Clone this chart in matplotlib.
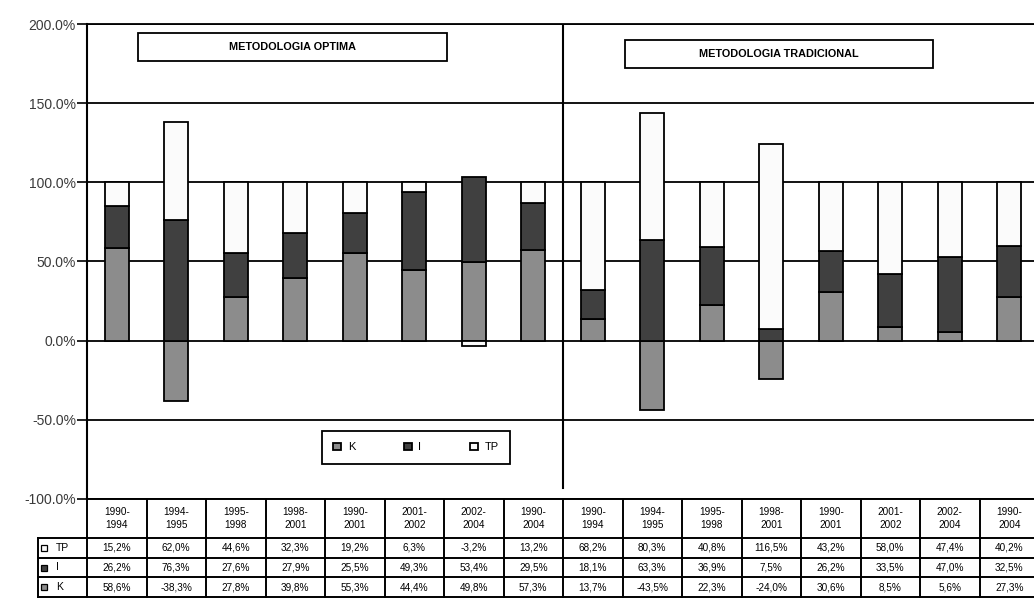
import matplotlib
matplotlib.use("Agg")
import matplotlib.pyplot as plt
from matplotlib.patches import Rectangle
import numpy as np

plt.rcParams['font.family'] = ['Liberation Sans', 'DejaVu Sans']

# ---------------- data ----------------
periods = ["1990-1994", "1994-1995", "1995-1998", "1998-2001",
           "1990-2001", "2001-2002", "2002-2004", "1990-2004"]
categories = periods + periods          # optima (8) + tradicional (8)
series_names = ["K", "I", "TP"]
K_vals = [58.6, -38.3, 27.8, 39.8, 55.3, 44.4, 49.8, 57.3,
          13.7, -43.5, 22.3, -24.0, 30.6, 8.5, 5.6, 27.3]
I_vals = [26.2, 76.3, 27.6, 27.9, 25.5, 49.3, 53.4, 29.5,
          18.1, 63.3, 36.9, 7.5, 26.2, 33.5, 47.0, 32.5]
TP_vals = [15.2, 62.0, 44.6, 32.3, 19.2, 6.3, -3.2, 13.2,
           68.2, 80.3, 40.8, 116.5, 43.2, 58.0, 47.4, 40.2]
yticks = [-100, -50, 0, 50, 100, 150, 200]
group_titles = ["METODOLOGIA OPTIMA", "METODOLOGIA TRADICIONAL"]

colors = {"K": "#8c8c8c", "I": "#404040", "TP": "#fbfbfb"}
values = {"K": K_vals, "I": I_vals, "TP": TP_vals}

W, H = 1034, 598
fig = plt.figure(figsize=(W / 100, H / 100), dpi=100)
fig.patch.set_facecolor("white")


def px_axes(x0, y0, x1, y1):
    return fig.add_axes([x0 / W, 1 - y1 / H, (x1 - x0) / W, (y1 - y0) / H])


ax = px_axes(87, 24, 1039, 499)
n = len(categories)
x = np.arange(n)
pos = np.zeros(n)
neg = np.zeros(n)
handles = []
for name in series_names:
    v = np.array(values[name], dtype=float)
    bottom = np.where(v >= 0, pos, neg)
    b = ax.bar(x, v, 0.4, bottom=bottom, color=colors[name],
               edgecolor="black", linewidth=1.3, label=name, zorder=3)
    handles.append(b)
    pos += np.where(v >= 0, v, 0)
    neg += np.where(v < 0, v, 0)

ax.set_xlim(-0.5, n - 0.5)
ax.set_ylim(-100, 200)
ax.set_yticks(yticks)
ax.set_yticklabels([f"{t:.1f}%" for t in yticks], fontsize=10, color="#3a3a3a")
ax.set_xticks([])
ax.yaxis.grid(True, color="black", linewidth=1.3)
ax.set_axisbelow(True)
ax.tick_params(axis="y", length=7, width=1.2, color="black", pad=1)
for s in ["right", "bottom"]:
    ax.spines[s].set_visible(False)
ax.spines["left"].set_linewidth(1.5)
ax.spines["top"].set_linewidth(1.3)
ax.axvline(7.5, ymin=0.023, ymax=1, color="black", linewidth=1.5, zorder=2)

# group title boxes
for (bx, by, bw, bh), title in zip([(0.0536, 0.922, 0.3246, 0.059),
                                    (0.565, 0.907, 0.3235, 0.059)], group_titles):
    ax.add_patch(Rectangle((bx, by), bw, bh, transform=ax.transAxes,
                           facecolor="white", edgecolor="black", linewidth=1.3, zorder=5))
    ax.text(bx + bw / 2, by + bh / 2, title, transform=ax.transAxes, ha="center",
            va="center", fontsize=7.8, fontweight="bold", zorder=6)

leg = ax.legend(handles=handles, labels=series_names, loc="center",
                bbox_to_anchor=(0.247, 0.063, 0.197, 0.091), mode="expand", ncol=3,
                frameon=True, fancybox=False, edgecolor="black", framealpha=1,
                handlelength=0.7, handleheight=0.7, handletextpad=0.6,
                fontsize=8, borderpad=1.0, borderaxespad=0)
leg.get_frame().set_linewidth(1.3)
leg.set_zorder(6)

# ---------------- data table ----------------
tax = px_axes(87, 499, 1039, 598)
tax.set_xlim(-0.5, n - 0.5)
tax.set_ylim(99, 0)
tax.axis("off")
rows = [0, 39, 59, 78, 98]
xl = -0.5 - (87 - 38) / 59.5
xr = n - 0.5
lw = 1.4
tax.plot([-0.5, xr], [rows[0], rows[0]], color="black", lw=lw, clip_on=False)
for r in rows[1:]:
    tax.plot([xl, xr], [r, r], color="black", lw=lw, clip_on=False)
for i in range(n + 1):
    tax.plot([i - 0.5, i - 0.5], [rows[0], rows[-1]], color="black", lw=lw, clip_on=False)
tax.plot([xl, xl], [rows[1], rows[-1]], color="black", lw=lw, clip_on=False)

for i, c in enumerate(categories):
    tax.text(i, (rows[0] + rows[1]) / 2, c.replace("-", "-\n"), ha="center", va="center",
             fontsize=7.2, linespacing=1.45, clip_on=False)

row_order = ["TP", "I", "K"]
for j, name in enumerate(row_order):
    yc = (rows[j + 1] + rows[j + 2]) / 2
    tax.add_patch(Rectangle((xl + 0.05, yc - 3), 0.1, 6, facecolor=colors[name],
                            edgecolor="black", linewidth=0.9, clip_on=False))
    tax.text(xl + 0.3, yc, name, ha="left", va="center", fontsize=7.5, clip_on=False)
    for i, v in enumerate(values[name]):
        tax.text(i, yc, f"{v:.1f}%".replace(".", ","), ha="center", va="center",
                 fontsize=7.2, clip_on=False)

fig.savefig("out.png", dpi=100, facecolor="white")
